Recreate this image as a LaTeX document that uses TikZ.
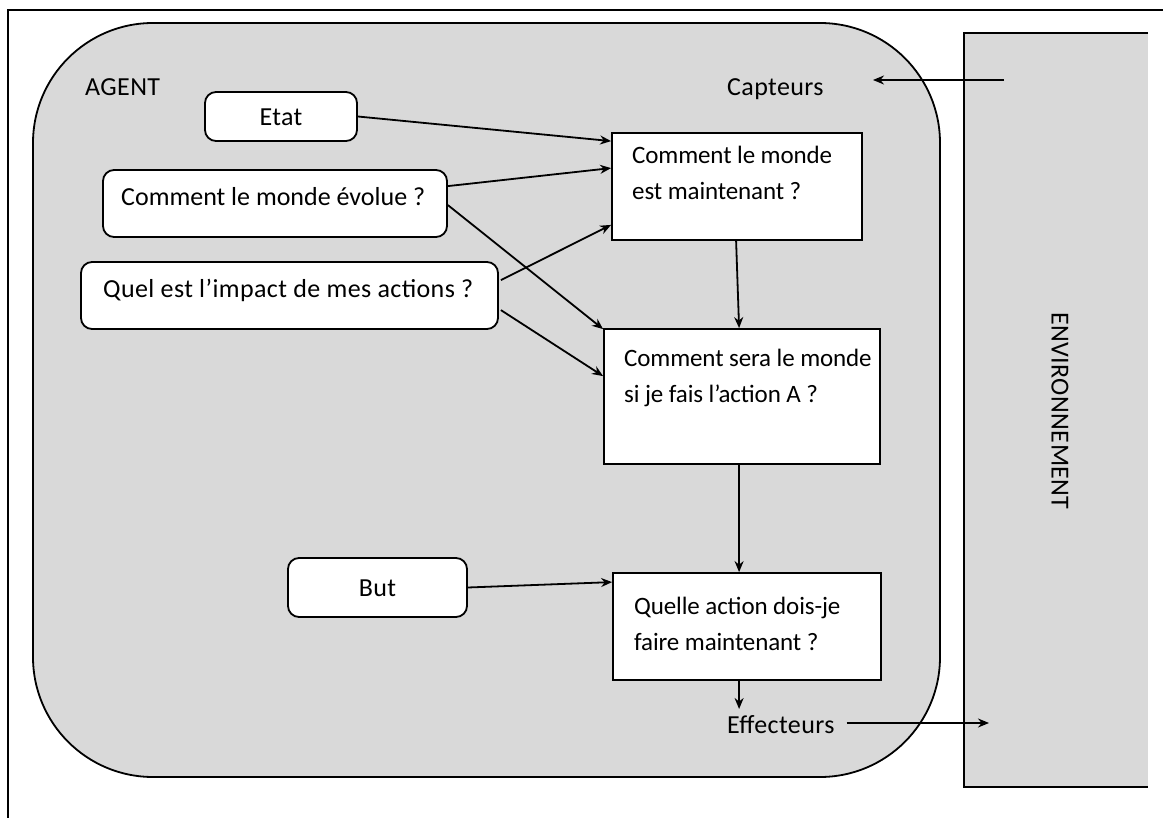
\documentclass[tikz,border=0pt]{standalone}
\usepackage{fontspec}
\setmainfont{Carlito}[LetterSpace=1.5]
\usetikzlibrary{calc,arrows.meta}
\definecolor{panel}{HTML}{D9D9D9}
\begin{document}
\begin{tikzpicture}[x=1pt,y=-1pt,
  every node/.style={font=\fontsize{26}{36}\selectfont},
  txt/.style={inner sep=0pt,anchor=base west,align=left},
  tight/.style={font=\fontsize{25}{36}\selectfont\addfontfeature{LetterSpace=-0.5}},
  ctxt/.style={inner sep=0pt,anchor=base},
  rbox/.style={draw,line width=1.8pt,fill=white,rounded corners=11pt,inner sep=0pt},
  sbox/.style={draw,line width=1.8pt,fill=white,inner sep=0pt},
  conn/.style={line width=1.8pt,-{Stealth[length=11pt,width=9pt]}}]
\useasboundingbox (0,0) rectangle (1163,818);

% outer frame (top and left edges)
\draw[line width=2.2pt] (8,818) -- (8,10) -- (1163,10);

% agent panel
\node[draw,line width=1.8pt,fill=panel,rounded corners=120pt,
  minimum width=907pt,minimum height=754pt,inner sep=0pt] (agent) at (486.5,400) {};

% environment panel
\node[fill=panel,minimum width=184pt,minimum height=754pt,inner sep=0pt] (env) at (1056,410) {};
\draw[line width=1.8pt] (env.north east) -- (env.north west) -- (env.south west) -- (env.south east);
\node[rotate=-90,inner sep=0pt] (envlbl) at (1060,411) {ENVIRONNEMENT};

% labels
\node[txt] (agentlbl) at (85,96) {AGENT};
\node[txt] (cap) at (727,96) {Capteurs};

% rounded input boxes
\node[rbox,minimum width=152pt,minimum height=49pt] (etat) at (281,116.5) {};
\node[ctxt] (etatT) at (281,126) {Etat};
\node[rbox,minimum width=344pt,minimum height=67pt] (evol) at (275,203.5) {};
\node[txt,font=\fontsize{26}{36}\selectfont\addfontfeature{LetterSpace=0}] (evolT) at (121,206) {Comment le monde évolue ?};
\node[rbox,minimum width=417pt,minimum height=67pt] (impact) at (289.5,295.5) {};
\node[txt] (impactT) at (103,298) {Quel est l’impact de mes actions ?};
\node[rbox,minimum width=179pt,minimum height=59pt] (but) at (377.5,587.5) {};
\node[ctxt] (butT) at (377.5,596) {But};

% reasoning boxes (anchor on the baseline of the last line)
\node[sbox,minimum width=250pt,minimum height=107pt] (now) at (737,186.5) {};
\node[txt,tight] (nowT) at (632,200) {Comment le monde\\est maintenant ?};
\node[sbox,minimum width=276pt,minimum height=135pt] (sera) at (742,396.5) {};
\node[txt,tight] (seraT) at (624,403) {Comment sera le monde\\si je fais l’action A ?};
\node[sbox,minimum width=268pt,minimum height=107pt] (quel) at (747,626.5) {};
\node[txt,tight] (quelT) at (634,650) {Quelle action dois-je\\faire maintenant ?};

\node[txt] (eff) at (727,733) {Effecteurs};

% free ends of the sensor and effector arrows
\coordinate (capstart) at (1004,80);
\coordinate (capend) at (873,80);
\coordinate (effend) at (989,723);
\coordinate (quelout) at ($(quel.south west)+(127,0)$);

% connectors
\draw[conn] (etat.east) -- ($(now.north west)+(0,9)$);
\draw[conn] ($(evol.north east)+(0,17)$) -- ($(now.north west)+(0,36)$);
\draw[conn] ($(evol.north east)+(0,36)$) -- ($(sera.north west)+(0,1)$);
\draw[conn] ($(impact.north east)+(2,19)$) -- ($(now.south west)+(0,-16)$);
\draw[conn] ($(impact.north east)+(2,49)$) -- ($(sera.north west)+(0,48)$);
\draw[conn] ($(now.south west)+(125,0)$) -- ($(sera.north west)+(136,0)$);
\draw[conn] ($(sera.south west)+(136,0)$) -- ($(quel.north west)+(127,0)$);
\draw[conn] (but.east) -- ($(quel.north west)+(0,10)$);
\draw[conn] (quelout) -- (quelout |- 0,709);
\draw[conn] ($(eff.east |- effend)+(12,0)$) -- (effend);
\draw[conn] (capstart) -- (capend);
\end{tikzpicture}
\end{document}
